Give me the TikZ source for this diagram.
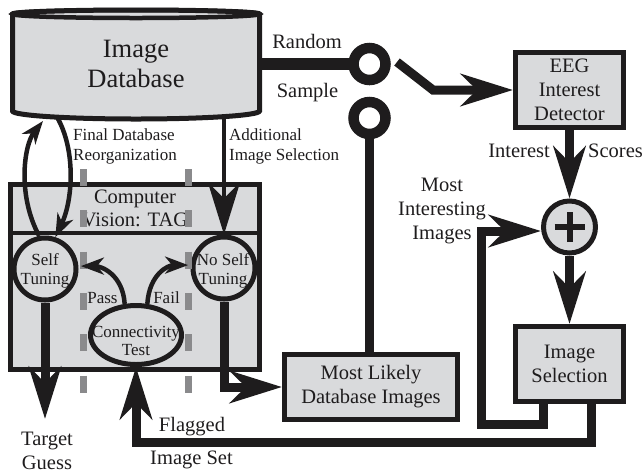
\documentclass[tikz,border=0pt]{standalone}
\usepackage{fontspec}
\setmainfont{Liberation Serif}
\usetikzlibrary{arrows.meta,shapes.geometric,calc}
\definecolor{panel}{RGB}{217,218,220}
\definecolor{ink}{RGB}{30,28,29}
\definecolor{guide}{RGB}{138,138,140}
\begin{document}
\begin{tikzpicture}[x=1pt,y=-1pt,
  lbl/.style={font=\fontsize{20.5}{24}\selectfont, align=center, inner sep=0pt, text=ink},
  note/.style={font=\fontsize{17}{20}\selectfont, align=center, inner sep=0pt, text=ink},
  box/.style={draw=ink, fill=panel, line width=5pt, lbl},
  ring/.style={circle, draw=ink, fill=panel, line width=5pt, minimum size=62pt, inner sep=0pt},
  contact/.style={circle, draw=ink, fill=white, line width=10.5pt, minimum size=32pt, inner sep=0pt},
  bus/.style={draw=ink, line width=9pt, line join=miter},
  wire/.style={draw=ink, line width=4.5pt},
  tipL/.style={-{Stealth[length=52pt,width=32pt,inset=16pt]}},
  tipS/.style={-{Stealth[length=23pt,width=17pt,inset=7pt]}},
  dashguide/.style={draw=guide, line width=7pt, dash pattern=on 17pt off 24.3pt},
]
\useasboundingbox (0,0) rectangle (644,475);

% image database cylinder
\path[draw=ink, fill=panel, line width=5pt]
  (12.5,14) -- (12.5,111)
  arc[start angle=180, end angle=0, x radius=123.5, y radius=8]
  -- (259.5,14)
  arc[start angle=0, end angle=-180, x radius=123.5, y radius=4] -- cycle;
\draw[ink, line width=4.5pt] (136,14) ellipse[x radius=123.5, y radius=4];
\node[font=\fontsize{26.5}{30}\selectfont, align=center, inner sep=0pt, text=ink] (db) at (136,64) {Image\\Database};
\coordinate (dbE) at (259.5,64);
\coordinate (dbL) at (43,121);
\coordinate (dbR) at (57,117);
\coordinate (dbA) at (224,117);

% computer vision panel
\node[draw=ink, fill=panel, line width=5pt, minimum width=249pt, minimum height=185pt, inner sep=0pt] (cv) at (135,277) {};
\draw[ink, line width=4.5pt] (cv.west |- 0,233) -- (cv.east |- 0,233);
\node[lbl, font=\fontsize{20.5}{23}\selectfont] (cvt) at (135,208) {Computer\\Vision: TAG};

\node[ring] (self) at (45,269) {};
\node[ring] (noself) at (224,268) {};
\node[ellipse, draw=ink, fill=panel, line width=5pt, minimum width=91pt, minimum height=59pt, inner sep=0pt] (conn) at (136,335) {};

\draw[dashguide] (83.5,169) -- (83.5,395);
\draw[dashguide] (188,169) -- (188,395);

\node[note, font=\fontsize{17}{18.5}\selectfont] (selft) at (45,271) {Self\\Tuning};
\node[note, font=\fontsize{17}{18.5}\selectfont] (noselft) at (223,271) {No Self\\Tuning};
\node[note, font=\fontsize{17}{18.5}\selectfont] (connt) at (136,341) {Connectivity\\Test};

% right-hand boxes
\node[box, minimum width=108pt, minimum height=75pt] (eeg) at (569.5,90) {EEG\\Interest\\Detector};
\node[box, minimum width=108pt, minimum height=75pt] (sel) at (569.5,364) {Image\\Selection};
\node[box, minimum width=173pt, minimum height=65pt] (ml) at (371,387) {Most Likely\\Database Images};
\node[circle, draw=ink, fill=panel, line width=5pt, minimum size=52pt, inner sep=0pt] (sum) at (569.5,227) {};
\draw[ink, line width=6pt] ([xshift=-15pt]sum.center) -- ([xshift=15pt]sum.center);
\draw[ink, line width=6pt] ([yshift=-15pt]sum.center) -- ([yshift=15pt]sum.center);

% random sample switch
\draw[ink, line width=12pt] (dbE) -- (369.5,64);
\draw[bus] (369.5,118) -- (369.5,118 |- ml.north);
\node[contact] (sw1) at (369.5,64) {};
\node[contact] (sw2) at (369.5,118) {};
\coordinate (lever) at (397,62);
\draw[bus, tipL] (lever) -- (433,90) -- (eeg.west);

% scoring path
\draw[bus, tipL] (eeg.south) -- (sum.north);
\draw[bus, tipL] (sum.south) -- (sel.north);
\draw[bus, tipL] ([xshift=-26pt]sel.south) |- (481,424) |- ([yshift=-4pt]sum.west);
\draw[bus, tipL] ([xshift=22pt]sel.south) |- (136,442) -- (conn.south);

% computer vision outputs
\node[lbl] (target) at (47,451) {Target\\Guess};
\draw[bus, tipL] (self.south) -- ([yshift=13pt]target.north -| self.south);
\draw[bus, tipL] (noself.south) |- (ml.west);

% pass / fail
\draw[wire, tipS] (conn.110) .. controls +(-2,-30) and +(20,0) .. ([xshift=2.5pt]self.5);
\draw[wire, tipS] (conn.70) .. controls +(2,-30) and +(-20,0) .. ([xshift=-2.5pt]noself.175);

% database loops
\draw[wire, tipS] (self.100) .. controls (17,195) and (24,145) .. (dbL);
\draw[wire, tipS] (dbR) .. controls (76,150) and (73,200) .. (self.72);
\draw[wire, tipL] (dbA) -- (noself.north);

% labels
\node[lbl, anchor=base] (rnd) at (307,48) {Random};
\node[lbl, anchor=base] (smp) at (307.5,97) {Sample};
\node[note, anchor=west, align=left] (fdr) at (73,146) {Final Database\\Reorganization};
\node[note, anchor=west, align=left] (ais) at (229,146) {Additional\\Image Selection};
\node[note, anchor=base] (pass) at (102.5,303) {Pass};
\node[note, anchor=base] (fail) at (166.5,303) {Fail};
\node[lbl, anchor=base east] (int) at (550,157) {Interest};
\node[lbl, anchor=base west] (sco) at (588,157) {Scores};
\node[lbl] (mii) at (442,211) {Most\\Interesting\\Images};
\node[lbl, anchor=base] (flg) at (192,431) {Flagged};
\node[lbl, anchor=base] (iset) at (191.5,464) {Image Set};
\end{tikzpicture}
\end{document}
